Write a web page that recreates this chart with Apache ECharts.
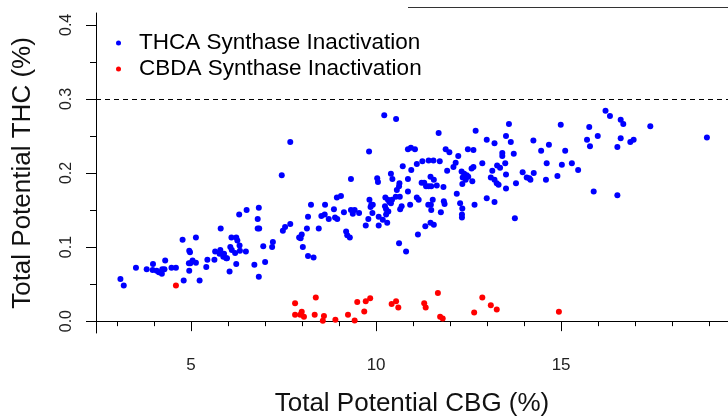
<!DOCTYPE html>
<html>
<head>
<meta charset="utf-8">
<script src="https://cdn.jsdelivr.net/npm/echarts@6/dist/echarts.min.js"></script>
<style>
  html, body { margin: 0; padding: 0; background: #fff; }
  #chart { width: 728px; height: 416px; }
</style>
</head>
<body>
<div id="chart"></div>
<script>
// THCA 合成酶失活：CBG / THC 数值
const thcaCBG = [
  7.68, 7.45, 6.83, 6.50, 6.30, 6.80, 6.80, 6.84, 5.80, 7.68, 7.54, 7.48, 7.92, 4.77, 5.13, 6.09,
  6.22, 6.25, 6.31, 6.06, 5.79, 5.65, 5.77, 5.89, 6.10, 6.19, 6.32, 6.48, 6.95, 7.21, 7.19, 4.95,
  4.97, 5.04, 4.94, 4.98, 5.13, 5.44, 5.63, 5.95, 5.97, 5.87, 6.22, 6.71, 7.00, 6.83, 6.04, 5.41,
  4.95, 4.80, 5.23, 4.59, 4.47, 4.30, 3.97, 3.96, 4.07, 4.13, 4.21, 4.22, 4.28, 3.80, 3.51, 3.09,
  3.18,
  10.22, 10.54, 11.69, 12.69, 12.99, 13.20, 9.81, 10.86, 10.94, 11.05, 11.88, 11.98, 12.48, 12.63,
  12.22, 11.42, 11.55, 11.72, 11.25, 11.10, 10.95, 10.72, 12.15, 12.09, 11.92, 12.87, 13.14, 13.27,
  12.58, 12.63, 12.31, 12.38, 12.45, 12.34, 12.42, 12.49, 12.33, 12.60, 13.10, 13.20, 13.26, 13.31,
  10.40, 10.44, 10.03, 10.05, 9.32, 10.63, 10.86, 11.30, 11.35, 11.42, 11.49, 11.47, 11.56, 11.64,
  11.82, 10.56, 10.62, 10.86, 10.25, 10.32, 10.36, 10.43, 10.40, 10.53, 10.64, 9.82, 9.87, 9.91,
  9.85, 9.90, 9.79, 10.24, 10.27, 10.33, 10.27, 10.18, 10.30, 10.07, 10.07, 9.72, 10.69, 10.65,
  10.92, 11.10, 11.15, 11.41, 11.48, 11.53, 11.49, 11.75, 11.83, 11.85, 12.18, 12.27, 12.33, 12.32,
  12.32, 12.66, 12.99, 13.20, 11.33, 11.47, 11.56, 11.13, 10.62, 10.81, 9.19, 9.22, 9.29, 9.13,
  9.32, 9.37, 9.42, 9.54, 8.94, 9.05, 8.62, 8.86, 8.24, 8.52, 8.61, 8.72, 8.89, 8.95, 8.16, 8.45,
  8.13, 7.99, 7.96, 8.02, 8.16, 8.31, 11.23,
  16.20, 16.32, 16.61, 16.68, 17.41, 18.94, 13.59, 14.99, 15.76, 13.51, 13.64, 14.25, 14.67, 14.46,
  15.11, 15.70, 15.78, 15.99, 16.61, 16.52, 16.87, 16.96, 13.41, 13.41, 13.72, 13.49, 13.35, 14.61,
  15.02, 15.29, 15.46, 13.96, 14.07, 14.17, 14.26, 14.14, 14.90, 14.59, 13.51, 13.78, 13.51, 15.88,
  16.52, 13.75
];
const thcaTHC = [
  0.242, 0.197, 0.153, 0.150, 0.144, 0.138, 0.125, 0.125, 0.125, 0.131, 0.127, 0.122, 0.113, 0.110, 0.113, 0.113,
  0.113, 0.109, 0.102, 0.100, 0.096, 0.094, 0.091, 0.091, 0.096, 0.092, 0.095, 0.094, 0.101, 0.107, 0.100, 0.095,
  0.093, 0.082, 0.078, 0.078, 0.079, 0.083, 0.083, 0.085, 0.085, 0.087, 0.077, 0.076, 0.080, 0.060, 0.067, 0.073,
  0.068, 0.055, 0.055, 0.072, 0.072, 0.082, 0.077, 0.069, 0.068, 0.066, 0.064, 0.070, 0.070, 0.070, 0.072, 0.057,
  0.048,
  0.278, 0.273, 0.254, 0.257, 0.245, 0.240, 0.229, 0.232, 0.234, 0.232, 0.232, 0.228, 0.232, 0.231,
  0.223, 0.217, 0.217, 0.216, 0.216, 0.212, 0.204, 0.209, 0.214, 0.208, 0.203, 0.213, 0.203, 0.210,
  0.206, 0.208, 0.202, 0.199, 0.197, 0.194, 0.191, 0.195, 0.185, 0.189, 0.194, 0.191, 0.186, 0.184,
  0.199, 0.192, 0.193, 0.188, 0.192, 0.186, 0.192, 0.187, 0.182, 0.182, 0.182, 0.195, 0.191, 0.183,
  0.181, 0.177, 0.182, 0.175, 0.167, 0.164, 0.161, 0.164, 0.159, 0.168, 0.168, 0.164, 0.157, 0.157,
  0.154, 0.146, 0.138, 0.155, 0.151, 0.148, 0.144, 0.137, 0.133, 0.129, 0.141, 0.129, 0.155, 0.151,
  0.157, 0.167, 0.164, 0.157, 0.157, 0.164, 0.150, 0.147, 0.162, 0.158, 0.172, 0.159, 0.152, 0.144,
  0.140, 0.157, 0.166, 0.161, 0.128, 0.133, 0.130, 0.117, 0.105, 0.094, 0.121, 0.116, 0.113, 0.147,
  0.150, 0.145, 0.150, 0.146, 0.167, 0.169, 0.157, 0.151, 0.157, 0.142, 0.144, 0.138, 0.140, 0.138, 0.141, 0.125,
  0.125, 0.117, 0.112, 0.100, 0.088, 0.086, 0.187,
  0.284, 0.277, 0.272, 0.266, 0.263, 0.248, 0.266, 0.265, 0.262, 0.250, 0.242, 0.244, 0.238, 0.230,
  0.230, 0.245, 0.236, 0.250, 0.247, 0.235, 0.242, 0.245, 0.227, 0.223, 0.226, 0.213, 0.207, 0.213,
  0.211, 0.213, 0.204, 0.201, 0.194, 0.191, 0.200, 0.193, 0.196, 0.191, 0.198, 0.186, 0.179, 0.175,
  0.170, 0.139
];

// CBDA 合成酶失活
const cbdaCBG = [
  4.59, 7.81, 8.37, 7.81, 7.95, 7.99, 8.05, 8.34, 8.59, 8.56, 8.90, 9.24, 9.42, 9.49, 9.68,
  9.72, 9.84, 10.42, 10.54, 10.60, 11.30, 11.34, 11.67, 11.73, 11.80, 12.65, 12.87, 13.10, 13.26, 14.94
];
const cbdaTHC = [
  0.048, 0.024, 0.032, 0.0085, 0.0085, 0.0126, 0.0058, 0.0085, 0.0068, 0.0004, 0.002, 0.0085, 0.001, 0.026, 0.013,
  0.027, 0.031, 0.023, 0.027, 0.0185, 0.024, 0.0185, 0.038, 0.006, 0.0036, 0.0117, 0.032, 0.0216, 0.0158, 0.0126
];

const seriesNames = ['THCA Synthase Inactivation', 'CBDA Synthase Inactivation'];
const xMajorTicks = [5, 10, 15];
const xMinorTicks = [3, 4, 6, 7, 8, 9, 11, 12, 13, 14, 16, 17, 18, 19];
const yMajorTicks = [0, 0.1, 0.2, 0.3, 0.4];
const yMinorTicks = [0.05, 0.15, 0.25, 0.35];
const thresholdTHC = 0.3;

const FONT = '"Liberation Sans", Arial, sans-serif';
const zip = (xs, ys) => xs.map((x, i) => [x, ys[i]]);

const chart = echarts.init(document.getElementById('chart'));

const xRange = { min: 2.43, max: 19.51 };
const yRange = { min: -0.016, max: 0.416 };

chart.setOption({
  animation: false,
  // 固定绘图区，不让标题溢出时自动收缩
  grid: { left: 96, top: 13, right: 0, bottom: 83, containLabel: false, outerBoundsMode: 'none' },
  legend: {
    orient: 'vertical',
    left: 111,
    top: 26,
    icon: 'circle',
    itemWidth: 5,
    itemHeight: 5,
    itemGap: 2,
    data: seriesNames,
    textStyle: {
      fontFamily: FONT,
      fontSize: 22.5,
      color: '#000',
      lineHeight: 24,
      padding: [0, 0, 0, 13]
    }
  },
  xAxis: [
    {
      type: 'value',
      position: 'bottom',
      ...xRange,
      name: 'Total Potential CBG (%)',
      nameLocation: 'middle',
      nameGap: 58,
      nameTextStyle: { fontFamily: FONT, fontSize: 26, color: '#111' },
      splitLine: { show: false },
      axisLine: { show: true, lineStyle: { color: '#000', width: 1 } },
      axisTick: { show: true, length: 10, customValues: xMajorTicks, lineStyle: { color: '#000' } },
      axisLabel: {
        customValues: xMajorTicks,
        margin: 24,
        fontFamily: FONT,
        fontSize: 17,
        color: '#222'
      }
    },
    {
      // 小刻度
      type: 'value',
      position: 'bottom',
      ...xRange,
      splitLine: { show: false },
      axisLine: { show: false },
      axisTick: { show: true, length: 5, customValues: xMinorTicks, lineStyle: { color: '#000' } },
      axisLabel: { show: false }
    }
  ],
  yAxis: [
    {
      type: 'value',
      position: 'left',
      ...yRange,
      name: 'Total Potential THC (%)',
      nameLocation: 'middle',
      nameGap: 60,
      nameTextStyle: { fontFamily: FONT, fontSize: 26, color: '#111' },
      splitLine: { show: false },
      axisLine: { show: true, lineStyle: { color: '#000', width: 1 } },
      axisTick: { show: true, length: 10, customValues: yMajorTicks, lineStyle: { color: '#000' } },
      axisLabel: {
        customValues: yMajorTicks,
        rotate: 90,
        margin: 21,
        fontFamily: FONT,
        fontSize: 16,
        color: '#222',
        formatter: (v) => v.toFixed(1)
      }
    },
    {
      type: 'value',
      position: 'left',
      ...yRange,
      splitLine: { show: false },
      axisLine: { show: false },
      axisTick: { show: true, length: 6, customValues: yMinorTicks, lineStyle: { color: '#000' } },
      axisLabel: { show: false }
    }
  ],
  graphic: [
    // 顶部残留的横线
    {
      type: 'line',
      shape: { x1: 408, y1: 7.5, x2: 728, y2: 7.5 },
      style: { stroke: '#333', lineWidth: 1 }
    }
  ],
  series: [
    {
      name: seriesNames[0],
      type: 'scatter',
      xAxisIndex: 0,
      yAxisIndex: 0,
      symbolSize: 6,
      itemStyle: { color: '#0000ff', opacity: 1 },
      data: zip(thcaCBG, thcaTHC),
      markLine: {
        silent: true,
        symbol: 'none',
        label: { show: false },
        lineStyle: { color: '#000', type: [5, 4], width: 1 },
        data: [{ yAxis: thresholdTHC }]
      }
    },
    {
      name: seriesNames[1],
      type: 'scatter',
      xAxisIndex: 0,
      yAxisIndex: 0,
      symbolSize: 6,
      itemStyle: { color: '#ff0000', opacity: 1 },
      data: zip(cbdaCBG, cbdaTHC)
    }
  ]
});
</script>
</body>
</html>
